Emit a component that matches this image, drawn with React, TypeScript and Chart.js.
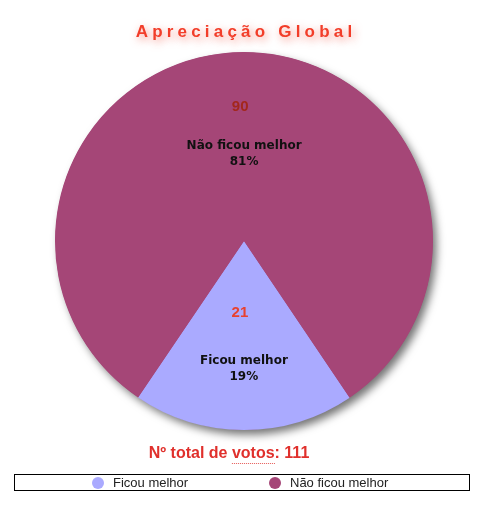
import React, { useEffect, useRef } from "react";
import { Chart, registerables } from "chart.js";

Chart.register(...registerables);

const categories = ["Ficou melhor", "Não ficou melhor"];
const votes = [21, 90];
const percentLabels = ["19%", "81%"];
const sliceColors = ["#aaaaff", "#a54677"];
const valueColors = ["#e8412f", "#a3271c"];
const titleText = "Apreciação Global";
const totalText = "Nº total de votos: 111";

const FONT = "Helvetica, Arial, 'Liberation Sans', sans-serif";

const decorPlugin = {
  id: "decor",
  beforeDatasetsDraw(chart: any) {
    const meta = chart.getDatasetMeta(0);
    const arc = meta.data[0];
    if (!arc) return;
    const { x, y, outerRadius } = arc.getProps(["x", "y", "outerRadius"], true);
    const ctx = chart.ctx;
    ctx.save();
    ctx.shadowColor = "rgba(0,0,0,0.55)";
    ctx.shadowBlur = 8;
    ctx.shadowOffsetX = 4;
    ctx.shadowOffsetY = 5;
    ctx.fillStyle = sliceColors[1];
    ctx.beginPath();
    ctx.arc(x, y, outerRadius - 0.5, 0, Math.PI * 2);
    ctx.fill();
    ctx.restore();
  },
  afterDatasetsDraw(chart: any) {
    const ctx = chart.ctx;
    const meta = chart.getDatasetMeta(0);
    const valueFrac = [0.38, 0.71];
    const nameFrac = [0.675, 0.46];
    meta.data.forEach((el: any, i: number) => {
      const p = el.getProps(["x", "y", "startAngle", "endAngle", "outerRadius"], true);
      const mid = (p.startAngle + p.endAngle) / 2;
      const r = p.outerRadius;
      const cx = Math.cos(mid);
      const cy = Math.sin(mid);
      ctx.save();
      ctx.textAlign = "center";
      ctx.textBaseline = "middle";
      ctx.font = `bold 15px ${FONT}`;
      ctx.fillStyle = valueColors[i];
      ctx.fillText(String(votes[i]), p.x + cx * r * valueFrac[i] - 4, p.y + cy * r * valueFrac[i]);
      ctx.font = `bold 12px 'DejaVu Sans', Verdana, sans-serif`;
      ctx.fillStyle = "#111111";
      const lx = p.x + cx * r * nameFrac[i];
      const ly = p.y + cy * r * nameFrac[i];
      ctx.fillText(categories[i], lx, ly - 8);
      ctx.fillText(percentLabels[i], lx, ly + 8);
      ctx.restore();
    });
  },
  afterDraw(chart: any) {
    const ctx = chart.ctx;
    // title
    ctx.save();
    ctx.font = `bold 17px ${FONT}`;
    (ctx as any).letterSpacing = "4.2px";
    ctx.textAlign = "center";
    ctx.textBaseline = "middle";
    ctx.fillStyle = "#f23d29";
    ctx.shadowColor = "rgba(240,60,40,0.6)";
    ctx.shadowBlur = 8;
    ctx.shadowOffsetX = 2;
    ctx.shadowOffsetY = 3;
    ctx.fillText(titleText, 246, 32);
    ctx.restore();

    // total
    ctx.save();
    ctx.font = `bold 16px ${FONT}`;
    ctx.textAlign = "center";
    ctx.textBaseline = "middle";
    ctx.fillStyle = "#e0302c";
    ctx.fillText(totalText, 229, 454);
    const full = ctx.measureText(totalText).width;
    const before = ctx.measureText("Nº total de ").width;
    const word = ctx.measureText("votos").width;
    const sx = 229 - full / 2 + before;
    ctx.fillStyle = "rgba(224,48,44,0.8)";
    for (let dx = 0; dx < word; dx += 2) {
      ctx.fillRect(sx + dx, 463, 1, 1);
    }
    ctx.restore();

    // legend box
    ctx.save();
    ctx.fillStyle = "#ffffff";
    ctx.fillRect(14.5, 474.5, 455, 16);
    ctx.strokeStyle = "#000000";
    ctx.lineWidth = 1;
    ctx.strokeRect(14.5, 474.5, 455, 16);
    ctx.font = `13px ${FONT}`;
    ctx.textBaseline = "middle";
    ctx.textAlign = "left";
    const dotX = [98, 275];
    categories.forEach((c, i) => {
      ctx.fillStyle = sliceColors[i];
      ctx.beginPath();
      ctx.arc(dotX[i], 483, 6, 0, Math.PI * 2);
      ctx.fill();
      ctx.fillStyle = "#222222";
      ctx.fillText(c, dotX[i] + 15, 483.5);
    });
    ctx.restore();
  },
};

export default function App() {
  const ref = useRef<HTMLCanvasElement>(null);
  useEffect(() => {
    document.body.style.margin = "0";
    const canvas = ref.current!;
    const chart = new Chart(canvas, {
      type: "pie",
      data: {
        labels: categories,
        datasets: [
          {
            data: votes,
            backgroundColor: sliceColors,
            borderWidth: 0,
          },
        ],
      },
      options: {
        responsive: false,
        animation: false,
        rotation: 146,
        layout: { padding: { left: 55, right: 55, top: 52, bottom: 84 } },
        plugins: {
          legend: { display: false },
          title: { display: false },
          tooltip: { enabled: false },
        },
      },
      plugins: [decorPlugin],
    });
    return () => chart.destroy();
  }, []);
  return (
    <div style={{ width: 488, height: 514, background: "#ffffff" }}>
      <canvas ref={ref} width={488} height={514} style={{ display: "block" }} />
    </div>
  );
}
